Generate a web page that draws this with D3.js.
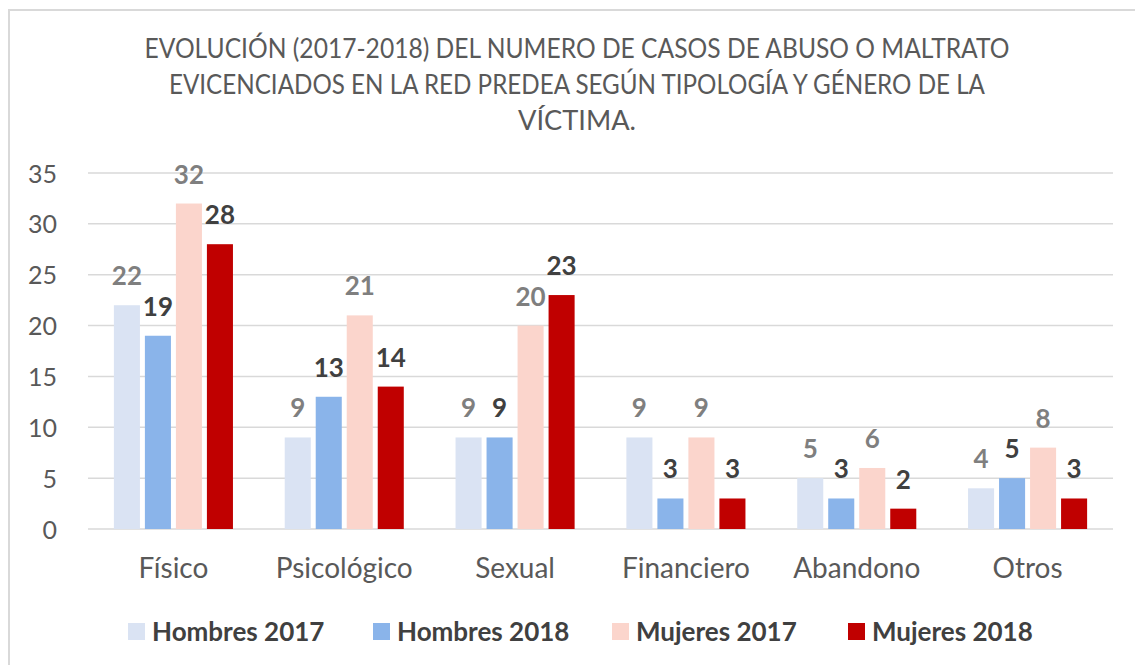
<!DOCTYPE html>
<html><head><meta charset="utf-8">
<script src="https://cdn.jsdelivr.net/npm/d3@7/dist/d3.min.js"></script>
<style>body{margin:0;background:#fff}svg{display:block}</style>
</head><body><svg id="c" width="1135" height="665"></svg>
<script>
const categories = ["Físico","Psicológico","Sexual","Financiero","Abandono","Otros"];
const seriesNames = ["Hombres 2017","Hombres 2018","Mujeres 2017","Mujeres 2018"];
const hombres2017 = [22, 9, 9, 9, 5, 4];
const hombres2018 = [19, 13, 9, 3, 3, 5];
const mujeres2017 = [32, 21, 20, 9, 6, 8];
const mujeres2018 = [28, 14, 23, 3, 2, 3];
const yTicks = [0,5,10,15,20,25,30,35];
const titleLines = ["EVOLUCIÓN (2017-2018) DEL NUMERO DE CASOS DE ABUSO O MALTRATO",
                    "EVICENCIADOS EN LA RED PREDEA SEGÚN TIPOLOGÍA Y GÉNERO DE LA",
                    "VÍCTIMA."];
const colors = ["#dae3f3","#8ab4ea","#fbd5cc","#c00000"];
const labelColors = ["#7f7f7f","#404040","#7f7f7f","#404040"];
const seriesValues = [hombres2017, hombres2018, mujeres2017, mujeres2018];

const svg = d3.select("#c");
const font = "Lato, 'Open Sans', sans-serif";

// border
svg.append("path").attr("d","M9,665 V10 H1135").attr("fill","none").attr("stroke","#d9d9d9").attr("stroke-width",2);

// title
const titleW = [865, 816, 118];
svg.append("g").selectAll("text").data(titleLines).join("text")
  .attr("x", 577).attr("y",(d,i)=>58+i*36)
  .attr("text-anchor","middle").attr("font-family",font).attr("font-size",27)
  .attr("fill","#595959")
  .attr("textLength",(d,i)=>titleW[i]).attr("lengthAdjust","spacingAndGlyphs")
  .text(d=>d);

const y = d3.scaleLinear().domain([0,35]).range([529,173]);
const x0 = d3.scaleBand().domain(categories).range([88,1113]).paddingInner(0.303).paddingOuter(0.1515);
const x1 = d3.scaleBand().domain(seriesNames).range([0,x0.bandwidth()]).paddingInner(0.16);

// gridlines
svg.append("g").selectAll("line").data(yTicks).join("line")
  .attr("x1",88).attr("x2",1113).attr("y1",d=>y(d)).attr("y2",d=>y(d))
  .attr("stroke","#d9d9d9").attr("stroke-width",1.5);

// y axis labels
const yAxis = svg.append("g").attr("transform","translate(88,0)")
  .call(d3.axisLeft(y).tickValues(yTicks).tickSize(0).tickPadding(31));
yAxis.select(".domain").remove();
yAxis.selectAll("text").attr("font-family",font).attr("font-size",25).attr("fill","#595959").attr("dy","0.36em");

// x axis labels
const xAxis = svg.append("g").attr("transform","translate(0,529)")
  .call(d3.axisBottom(x0).tickSize(0).tickPadding(32));
xAxis.select(".domain").remove();
xAxis.selectAll("text").attr("font-family",font).attr("font-size",28).attr("fill","#595959").attr("dy","0.6em");

// bars
const groups = svg.append("g").selectAll("g").data(categories).join("g")
  .attr("transform",d=>`translate(${x0(d)},0)`);
groups.each(function(cat, ci){
  const g = d3.select(this);
  const data = seriesNames.map((s,si)=>({s, si, v: seriesValues[si][ci]}));
  g.selectAll("rect").data(data).join("rect")
    .attr("x",d=>x1(d.s)).attr("width",x1.bandwidth())
    .attr("y",d=>y(d.v)).attr("height",d=>y(0)-y(d.v))
    .attr("fill",d=>colors[d.si]);
  g.selectAll("text").data(data).join("text")
    .attr("x",d=>x1(d.s)+x1.bandwidth()/2).attr("y",d=>y(d.v)-20)
    .attr("text-anchor","middle").attr("font-family",font).attr("font-weight","bold")
    .attr("font-size",26).attr("fill",d=>labelColors[d.si]).text(d=>d.v);
});

// legend
const legX = [128, 373, 612, 848];
const leg = svg.append("g").selectAll("g").data(seriesNames).join("g")
  .attr("transform",(d,i)=>`translate(${legX[i]},623)`);
leg.append("rect").attr("width",17).attr("height",17).attr("fill",(d,i)=>colors[i]);
leg.append("text").attr("x",24).attr("y",18).attr("font-family",font).attr("font-weight","bold")
  .attr("font-size",26).attr("fill","#404040").text(d=>d);
</script></body></html>
